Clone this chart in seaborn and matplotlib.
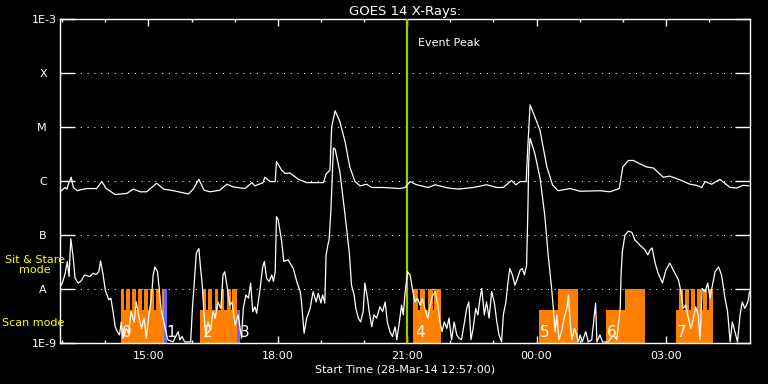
import numpy as np
import pandas as pd
import seaborn as sns
import matplotlib
matplotlib.use("Agg")
import matplotlib.pyplot as plt
import matplotlib.dates as mdates
from matplotlib.ticker import NullLocator
from matplotlib.transforms import ScaledTranslation

# time axis: hours after start
start = pd.Timestamp("2014-03-28 12:57:00")
span_hr = 16.0
peak_hr = 8.05

# GOES 14 long channel (1-8 A), log10 flux
long_hr = [0.00, 0.12, 0.16, 0.19, 0.26, 0.31, 0.40, 0.54, 0.63, 0.85,
           0.97, 1.07, 1.28, 1.55, 1.70, 1.86, 2.01, 2.24, 2.40, 2.63,
           2.98, 3.09, 3.22, 3.34, 3.48, 3.71, 3.87, 4.02, 4.29, 4.45,
           4.52, 4.71, 4.75, 4.87, 4.99, 5.02, 5.14, 5.22, 5.33, 5.53,
           5.72, 6.11, 6.17, 6.26, 6.30, 6.38, 6.49, 6.61, 6.72, 6.84,
           6.96, 7.11, 7.23, 7.50, 7.88, 8.00, 8.12, 8.27, 8.54, 8.70,
           9.00, 9.24, 9.58, 9.89, 10.13, 10.28, 10.47, 10.57, 10.67, 10.81,
           10.84, 10.90, 11.01, 11.13, 11.29, 11.42, 11.55, 11.83, 12.06, 12.52,
           12.75, 12.97, 13.05, 13.18, 13.29, 13.60, 13.76, 13.99, 14.14, 14.38,
           14.61, 14.76, 14.88, 14.96, 15.11, 15.30, 15.54, 15.69, 15.84, 15.98]
long_log = [-6.20, -6.12, -6.15, -6.07, -5.93, -6.12, -6.18, -6.15, -6.14, -6.14,
            -6.01, -6.14, -6.25, -6.23, -6.15, -6.20, -6.20, -6.04, -6.15, -6.18,
            -6.24, -6.15, -5.97, -6.17, -6.20, -6.17, -6.06, -6.11, -6.14, -6.03,
            -6.09, -6.03, -5.93, -6.01, -6.01, -5.64, -5.80, -5.86, -5.85, -5.97,
            -6.03, -6.03, -5.87, -5.80, -4.99, -4.70, -4.90, -5.27, -5.74, -6.01,
            -6.09, -6.06, -6.12, -6.12, -6.14, -6.12, -6.01, -6.07, -6.12, -6.07,
            -6.13, -6.15, -6.12, -6.07, -6.12, -6.12, -5.99, -6.07, -6.01, -6.01,
            -5.49, -4.59, -4.81, -5.06, -5.74, -6.07, -6.18, -6.14, -6.19, -6.18,
            -6.20, -6.14, -5.74, -5.62, -5.62, -5.74, -5.76, -5.93, -5.91, -5.98,
            -6.06, -6.08, -6.12, -6.01, -6.06, -5.97, -6.12, -6.13, -6.08, -6.09]

# GOES 14 short channel (0.5-4 A), log10 flux
short_hr = [0.03, 0.07, 0.12, 0.17, 0.21, 0.25, 0.30, 0.35, 0.42, 0.49,
            0.57, 0.69, 0.77, 0.84, 0.90, 0.94, 1.00, 1.05, 1.13, 1.18,
            1.23, 1.28, 1.33, 1.38, 1.42, 1.46, 1.54, 1.59, 1.65, 1.72,
            1.77, 1.82, 1.89, 1.95, 2.00, 2.06, 2.12, 2.16, 2.20, 2.26,
            2.30, 2.34, 2.39, 2.44, 2.50, 2.62, 2.74, 2.78, 2.83, 2.89,
            3.03, 3.07, 3.11, 3.16, 3.22, 3.26, 3.30, 3.34, 3.38, 3.43,
            3.49, 3.55, 3.60, 3.66, 3.73, 3.78, 3.82, 3.87, 3.94, 3.99,
            4.06, 4.13, 4.21, 4.25, 4.31, 4.37, 4.42, 4.47, 4.52, 4.56,
            4.64, 4.70, 4.74, 4.79, 4.85, 4.91, 4.95, 4.99, 5.02, 5.06,
            5.14, 5.19, 5.29, 5.41, 5.49, 5.57, 5.60, 5.66, 5.72, 5.80,
            5.87, 5.94, 5.99, 6.05, 6.09, 6.14, 6.17, 6.21, 6.24, 6.28,
            6.34, 6.38, 6.49, 6.61, 6.71, 6.76, 6.82, 6.86, 6.92, 6.97,
            7.03, 7.07, 7.13, 7.17, 7.23, 7.28, 7.34, 7.42, 7.48, 7.54,
            7.59, 7.65, 7.71, 7.77, 7.81, 7.87, 7.92, 7.96, 8.00, 8.06,
            8.12, 8.17, 8.23, 8.29, 8.35, 8.40, 8.46, 8.53, 8.58, 8.63,
            8.70, 8.76, 8.81, 8.86, 8.91, 8.97, 9.02, 9.08, 9.14, 9.20,
            9.25, 9.31, 9.38, 9.43, 9.48, 9.53, 9.58, 9.64, 9.69, 9.74,
            9.78, 9.84, 9.89, 9.95, 10.01, 10.07, 10.13, 10.18, 10.24, 10.28,
            10.34, 10.38, 10.43, 10.49, 10.55, 10.61, 10.67, 10.72, 10.77, 10.82,
            10.85, 10.87, 10.90, 11.01, 11.13, 11.24, 11.32, 11.40, 11.44, 11.48,
            11.52, 11.57, 11.63, 11.69, 11.75, 11.79, 11.83, 11.87, 11.93, 11.98,
            12.02, 12.06, 12.11, 12.19, 12.25, 12.33, 12.42, 12.45, 12.52, 12.58,
            12.71, 12.83, 12.91, 12.99, 13.01, 13.04, 13.10, 13.18, 13.26, 13.33,
            13.45, 13.57, 13.63, 13.68, 13.73, 13.80, 13.87, 13.97, 14.05, 14.14,
            14.24, 14.34, 14.40, 14.45, 14.51, 14.57, 14.63, 14.69, 14.74, 14.80,
            14.84, 14.89, 14.96, 15.02, 15.07, 15.13, 15.19, 15.27, 15.34, 15.42,
            15.48, 15.54, 15.59, 15.65, 15.71, 15.77, 15.82, 15.88, 15.95, 15.99]
short_log = [-7.93, -7.85, -7.71, -7.49, -7.77, -7.07, -7.37, -7.80, -7.89, -7.85,
             -7.74, -7.77, -7.71, -7.73, -7.68, -7.48, -7.74, -8.02, -8.20, -8.17,
             -8.42, -8.70, -8.79, -8.85, -8.61, -8.91, -8.73, -8.82, -8.42, -8.61,
             -8.24, -8.48, -8.73, -8.54, -8.91, -8.48, -8.17, -7.74, -7.59, -7.68,
             -7.99, -8.36, -8.54, -8.74, -8.94, -8.98, -8.79, -8.94, -8.88, -8.98,
             -8.98, -8.36, -7.93, -7.34, -7.25, -7.62, -7.93, -8.48, -8.85, -8.61,
             -8.76, -8.42, -8.54, -8.24, -8.36, -7.74, -7.68, -7.93, -8.30, -8.24,
             -8.67, -8.48, -8.91, -8.36, -8.11, -8.17, -7.89, -8.42, -8.33, -8.45,
             -7.99, -7.59, -7.49, -7.80, -7.86, -7.74, -7.86, -7.68, -6.66, -6.72,
             -7.12, -7.49, -7.46, -7.62, -7.86, -8.05, -8.24, -8.82, -8.54, -8.36,
             -8.05, -8.24, -8.08, -8.26, -8.11, -8.26, -7.37, -7.19, -7.09, -6.57,
             -5.39, -5.41, -5.83, -6.63, -7.34, -7.93, -8.11, -8.36, -8.54, -8.61,
             -8.42, -7.89, -8.17, -8.42, -8.70, -8.48, -8.54, -8.33, -8.42, -8.24,
             -8.61, -8.79, -8.88, -8.70, -8.94, -8.61, -8.30, -8.48, -8.08, -7.68,
             -7.74, -7.99, -8.24, -8.17, -8.30, -8.17, -8.36, -8.54, -8.33, -8.14,
             -8.05, -8.30, -8.61, -8.79, -8.61, -8.73, -8.54, -8.94, -8.61, -8.85,
             -8.91, -8.94, -8.61, -8.36, -8.24, -8.94, -8.73, -8.36, -8.48, -8.17,
             -7.99, -8.48, -8.24, -8.54, -8.05, -8.24, -8.61, -8.85, -8.98, -8.48,
             -8.24, -7.93, -7.62, -7.74, -7.93, -7.80, -7.65, -7.62, -7.74, -7.56,
             -6.51, -5.61, -5.21, -5.49, -5.94, -6.63, -7.37, -7.99, -8.36, -8.79,
             -8.48, -8.94, -8.79, -8.54, -8.36, -8.11, -8.61, -8.94, -8.73, -8.85,
             -8.98, -8.85, -8.98, -8.79, -8.98, -8.94, -8.26, -8.98, -8.85, -8.98,
             -8.98, -8.85, -8.94, -8.36, -7.74, -7.31, -7.00, -6.93, -6.95, -7.09,
             -7.19, -7.28, -7.37, -7.28, -7.24, -7.52, -7.71, -7.89, -7.65, -7.52,
             -7.68, -7.83, -8.05, -8.36, -8.30, -8.54, -8.73, -8.54, -8.33, -8.48,
             -8.94, -7.99, -8.05, -7.89, -8.17, -7.93, -7.68, -7.59, -7.74, -8.17,
             -8.42, -8.98, -8.61, -8.79, -8.98, -8.48, -8.24, -8.36, -8.24, -8.05]

# observation blocks (hours after start)
scan_start = [1.408, 3.246, 8.179, 11.107, 12.661, 14.284]
scan_end = [2.412, 4.097, 8.828, 12.004, 13.565, 15.135]
stare_start = [1.408, 1.535, 1.674, 1.813, 1.952, 2.092, 2.231, 2.370,
               3.323, 3.443, 3.583, 3.722, 3.861, 4.000,
               8.179, 8.359, 8.522, 8.684,
               11.555, 13.101,
               14.354, 14.493, 14.632, 14.764, 14.903, 15.049]
stare_end = [1.491, 1.630, 1.769, 1.908, 2.048, 2.187, 2.326, 2.412,
             3.397, 3.536, 3.675, 3.814, 3.954, 4.097,
             8.313, 8.475, 8.638, 8.828,
             12.004, 13.565,
             14.439, 14.578, 14.718, 14.857, 14.996, 15.135]
blue_start = [2.412, 4.097]
blue_end = [2.488, 4.174]
blue_mode = ["stare", "scan"]
obs_labels = ["0", "1", "2", "3", "4", "5", "6", "7"]
obs_label_hr = [1.44, 2.46, 3.32, 4.17, 8.23, 11.13, 12.69, 14.30]

flux_floor = 1e-9
scan_top = 4.1e-9
stare_top = 1e-8

ytick_vals = [1e-3, 1e-4, 1e-5, 1e-6, 1e-7, 1e-8, 1e-9]
ytick_labels = ["1E-3", "X", "M", "C", "B", "A", "1E-9"]


def to_time(hrs):
    return start + pd.to_timedelta(np.asarray(hrs), unit="h")


sns.set_theme(style="ticks", rc={
    "figure.facecolor": "black", "axes.facecolor": "black",
    "axes.edgecolor": "white", "text.color": "white",
    "axes.labelcolor": "white", "xtick.color": "white", "ytick.color": "white",
})
plt.rcParams["font.family"] = ["DejaVu Sans"]

fig = plt.figure(figsize=(7.68, 3.84), dpi=100)
ax = fig.add_axes([60 / 768, 41 / 384, 690 / 768, 324 / 384])

orange = "#ff8000"
blue = "#6868ff"

for s, e in zip(scan_start, scan_end):
    ax.fill_between(to_time([s, e]), flux_floor, scan_top, color=orange, lw=0, zorder=2)
for s, e in zip(stare_start, stare_end):
    ax.fill_between(to_time([s, e]), flux_floor, stare_top, color=orange, lw=0, zorder=2)
for s, e, m in zip(blue_start, blue_end, blue_mode):
    top = stare_top if m == "stare" else scan_top
    ax.fill_between(to_time([s, e]), flux_floor, top, color=blue, lw=0, zorder=2)

sns.lineplot(x=to_time(long_hr), y=10 ** np.array(long_log), color="white",
             lw=0.9, estimator=None, sort=False, ax=ax, zorder=4)
sns.lineplot(x=to_time(short_hr), y=10 ** np.array(short_log), color="white",
             lw=0.9, estimator=None, sort=False, ax=ax, zorder=4)

for lab, h in zip(obs_labels, obs_label_hr):
    ax.text(to_time([h])[0], 1.55e-9, lab, color="white", fontsize=11,
            ha="left", va="center", zorder=5)

peak_t = to_time([peak_hr])[0]
ax.axvline(peak_t, color="#9acd00", lw=1.6, zorder=3)
ax.annotate("Event Peak", xy=(peak_t, 10 ** -3.44), xytext=(7.5, 0),
            textcoords="offset points", color="white", fontsize=8, va="center")

ax.set_yscale("log")
ax.set_ylim(1e-9, 1e-3)
ax.set_xlim(to_time([0])[0], to_time([span_hr])[0])
ax.set_yticks(ytick_vals)
ax.set_yticklabels(ytick_labels)
ax.yaxis.set_minor_locator(NullLocator())
ax.xaxis.set_major_locator(mdates.HourLocator(byhour=range(0, 24, 3)))
ax.xaxis.set_minor_locator(mdates.HourLocator())
ax.xaxis.set_major_formatter(mdates.DateFormatter("%H:%M"))

ax.tick_params(axis="y", which="major", direction="in", length=10.8, width=1,
               left=True, right=True, labelsize=8, pad=2)
ax.tick_params(axis="x", which="major", direction="in", length=5, width=1,
               top=True, bottom=True, labelsize=8, pad=6)
ax.tick_params(axis="x", which="minor", direction="in", length=2.5, width=1,
               top=True, bottom=True)
ax.grid(axis="y", which="major", color="white", linestyle=(0, (1, 5.5)), lw=0.75)
for sp in ax.spines.values():
    sp.set_color("white")
    sp.set_linewidth(1.0)

ax.set_title("GOES 14 X-Rays:", color="white", fontsize=9.5, pad=3)
ax.set_xlabel("Start Time (28-Mar-14 12:57:00)", fontsize=8, labelpad=2)
ax.set_ylabel("")

# letter labels sit further left than the 1E-x labels
shift = ScaledTranslation(-7.5 / 72, 0, fig.dpi_scale_trans)
for lab in ax.get_yticklabels():
    if lab.get_text() in ytick_labels[1:-1]:
        lab.set_transform(lab.get_transform() + shift)

fig.text(35 / 768, 1 - 265 / 384, "Sit & Stare\nmode", color="yellow", fontsize=8,
         ha="center", va="center", multialignment="center", linespacing=1.1)
fig.text(2 / 768, 1 - 323 / 384, "Scan mode", color="yellow", fontsize=8,
         ha="left", va="center")

fig.savefig("out.png", dpi=100, facecolor="black")
